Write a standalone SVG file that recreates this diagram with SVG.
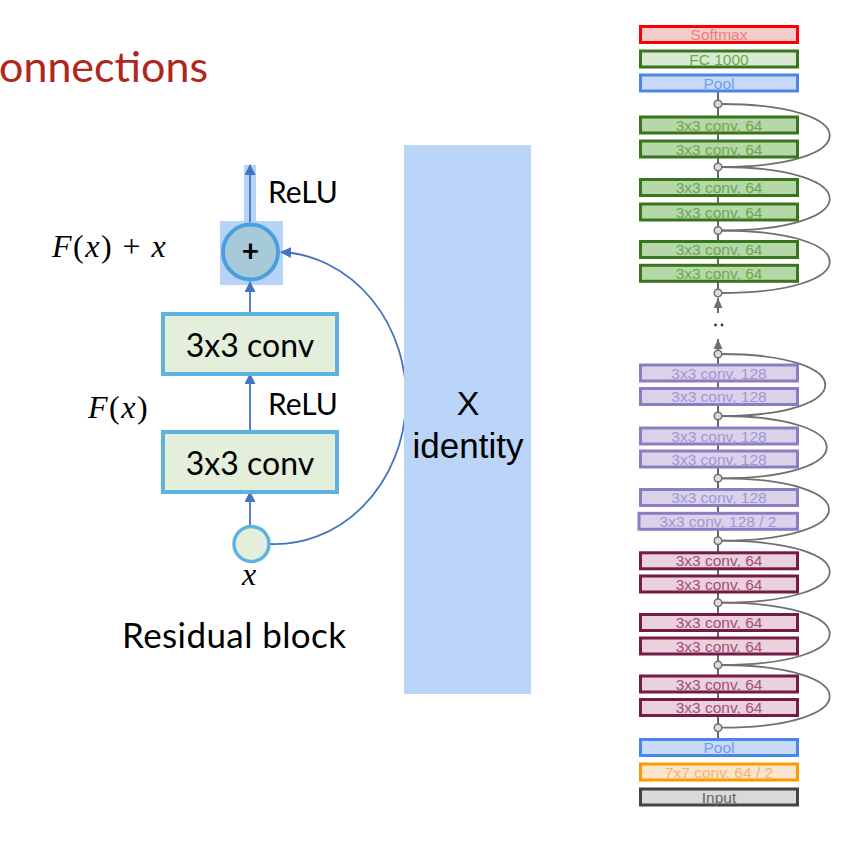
<svg xmlns="http://www.w3.org/2000/svg" width="868" height="848" viewBox="0 0 868 848">
<style>
.gill{font-family:Lato,"Open Sans","DejaVu Sans",sans-serif;fill:#000}
.math{font-family:"Liberation Serif","DejaVu Serif",serif;font-size:32px;fill:#000}
.it{font-style:italic}
.conv{fill:#E3EEDB;stroke:#5DB2E0;stroke-width:4}
.blue{stroke:#4472C4;stroke-width:1.8;fill:none}
.bx{stroke-width:3}
.bt{font-family:"Liberation Sans",Arial,sans-serif;font-size:15.5px;text-anchor:middle}
.g64 rect{fill:#B6D7A8;stroke:#38761D}
.g64 text{fill:#6AA84F}
.p128 rect{fill:#D9D2E9;stroke:#8E7CC3}
.p128 text{fill:#A196D9}
.m64 rect{fill:#EAD1DC;stroke:#741B47}
.m64 text{fill:#A64D79}
.skip{fill:none;stroke:#707070;stroke-width:1.8}
.vl{stroke:#666;stroke-width:2}
.dot{fill:#DDD;stroke:#707070;stroke-width:1.5}
</style>
<defs>
<marker id="ab" markerUnits="userSpaceOnUse" markerWidth="11" markerHeight="11" refX="10" refY="5.5" orient="auto"><path d="M0,0 L11,5.5 L0,11 z" fill="#4472C4"/></marker>
<marker id="ag" markerUnits="userSpaceOnUse" markerWidth="10" markerHeight="9" refX="10" refY="4.5" orient="auto"><path d="M0,0 L10,4.5 L0,9 z" fill="#707070"/></marker>
</defs>
<rect width="868" height="848" fill="#fff"/>
<text x="-1" y="82" font-family="Lato,'Open Sans',sans-serif" font-size="43" fill="#B0261C">onnections</text>

<!-- Residual block -->
<g id="highlights">
<rect x="244" y="165" width="12" height="57" fill="#B7D3F7"/>
<rect x="220" y="221" width="63" height="64" fill="#B7D3F7"/>
</g>
<g id="connectors-left">
<line class="blue" x1="250" y1="222" x2="250" y2="165" marker-end="url(#ab)"/>
<line class="blue" x1="250" y1="314" x2="250" y2="282" marker-end="url(#ab)"/>
<line class="blue" x1="250" y1="432" x2="250" y2="374" marker-end="url(#ab)"/>
<line class="blue" x1="250" y1="526" x2="250" y2="492" marker-end="url(#ab)"/>
<path class="blue" d="M269,544 A131 146 0 0 0 281,252" marker-end="url(#ab)"/>
</g>
<g id="add">
<circle cx="250.5" cy="252" r="27.5" fill="#A7CAD8" stroke="#4A9FDF" stroke-width="4"/>
<text x="250.5" y="262" class="gill" font-size="30" font-weight="bold" text-anchor="middle">+</text>
</g>
<g id="conv1">
<rect class="conv" x="163" y="314" width="174" height="60"/>
<text x="250" y="357" class="gill" font-size="32" text-anchor="middle">3x3 conv</text>
</g>
<g id="conv2">
<rect class="conv" x="163" y="432" width="174" height="60"/>
<text x="250" y="475" class="gill" font-size="32" text-anchor="middle">3x3 conv</text>
</g>
<g id="input-x">
<circle cx="251.5" cy="544" r="17.5" fill="#E3EEDB" stroke="#5DB2E0" stroke-width="3.5"/>
<text x="249" y="585" class="math it" text-anchor="middle">x</text>
</g>
<text x="268" y="203" class="gill" font-size="30">ReLU</text>
<text x="268" y="415" class="gill" font-size="30">ReLU</text>
<text x="52" y="257" class="math" letter-spacing="1.5"><tspan class="it">F</tspan>(<tspan class="it">x</tspan>) + <tspan class="it">x</tspan></text>
<text x="88" y="418" class="math" letter-spacing="1.5"><tspan class="it">F</tspan>(<tspan class="it">x</tspan>)</text>
<text x="122" y="648" class="gill" font-size="35" letter-spacing="0.4">Residual block</text>

<!-- identity bar -->
<g id="identity">
<rect x="404" y="145" width="127" height="549" fill="#BAD5F8"/>
<text x="468" y="415" font-family="'Liberation Sans',Arial,sans-serif" font-size="34" text-anchor="middle">X</text>
<text x="468" y="458" font-family="'Liberation Sans',Arial,sans-serif" font-size="35" text-anchor="middle">identity</text>
</g>

<!-- ResNet column -->
<g id="connectors-right">
<line class="vl" x1="718" y1="92" x2="718" y2="293"/>
<line class="vl" x1="718" y1="313" x2="718" y2="298" marker-end="url(#ag)"/>
<line class="vl" x1="718" y1="352" x2="718" y2="339" marker-end="url(#ag)"/>
<line class="vl" x1="718" y1="354" x2="718" y2="738"/>
<circle cx="715.5" cy="325" r="1.4" fill="#333"/>
<circle cx="722" cy="325" r="1.4" fill="#333"/>
<path class="skip" d="M721,104 C866,104 866,167 721,167"/>
<path class="skip" d="M721,167 C866,167 866,230.5 721,230.5"/>
<path class="skip" d="M721,230.5 C866,230.5 866,293 721,293"/>
<path class="skip" d="M721,354 C860,354 860,416 721,416"/>
<path class="skip" d="M721,416 C862,416 862,478.3 721,478.3"/>
<path class="skip" d="M721,478.3 C865,478.3 865,540.7 721,540.7"/>
<path class="skip" d="M721,540.7 C866,540.7 866,602.7 721,602.7"/>
<path class="skip" d="M721,602.7 C866,602.7 866,665 721,665"/>
<path class="skip" d="M721,665 C866,665 866,727.7 721,727.7"/>
</g>
<g id="softmax"><rect class="bx" x="640.5" y="26.5" width="157" height="16" fill="#F4CCCC" stroke="#FF0000"/><text class="bt" x="719" y="40" fill="#F07C7C">Softmax</text></g>
<g id="fc1000"><rect class="bx" x="640.5" y="51" width="157" height="16" fill="#D9EAD3" stroke="#38761D"/><text class="bt" x="719" y="64.5" fill="#6AA84F">FC 1000</text></g>
<g id="pool-top"><rect class="bx" x="640.5" y="75" width="157" height="16" fill="#C9DAF8" stroke="#4A86E8"/><text class="bt" x="719" y="88.5" fill="#6D9EEB">Pool</text></g>
<g id="g1" class="g64"><rect class="bx" x="640.5" y="117" width="157" height="16"/><text class="bt" x="719" y="130.5">3x3 conv, 64</text></g>
<g id="g2" class="g64"><rect class="bx" x="640.5" y="141" width="157" height="16"/><text class="bt" x="719" y="154.5">3x3 conv, 64</text></g>
<g id="g3" class="g64"><rect class="bx" x="640.5" y="179.5" width="157" height="16"/><text class="bt" x="719" y="193">3x3 conv, 64</text></g>
<g id="g4" class="g64"><rect class="bx" x="640.5" y="204" width="157" height="16"/><text class="bt" x="719" y="217.5">3x3 conv, 64</text></g>
<g id="g5" class="g64"><rect class="bx" x="640.5" y="241.5" width="157" height="16"/><text class="bt" x="719" y="255">3x3 conv, 64</text></g>
<g id="g6" class="g64"><rect class="bx" x="640.5" y="265.3" width="157" height="16"/><text class="bt" x="719" y="278.8">3x3 conv, 64</text></g>
<g id="p1" class="p128"><rect class="bx" x="640.5" y="365" width="157" height="16"/><text class="bt" x="719" y="378.5">3x3 conv, 128</text></g>
<g id="p2" class="p128"><rect class="bx" x="640.5" y="388.5" width="157" height="16"/><text class="bt" x="719" y="402">3x3 conv, 128</text></g>
<g id="p3" class="p128"><rect class="bx" x="640.5" y="428" width="157" height="16"/><text class="bt" x="719" y="441.5">3x3 conv, 128</text></g>
<g id="p4" class="p128"><rect class="bx" x="640.5" y="451" width="157" height="16"/><text class="bt" x="719" y="464.5">3x3 conv, 128</text></g>
<g id="p5" class="p128"><rect class="bx" x="640.5" y="489.5" width="157" height="16"/><text class="bt" x="719" y="503">3x3 conv, 128</text></g>
<g id="p6" class="p128"><rect class="bx" x="639" y="513.3" width="158.5" height="16"/><text class="bt" x="718" y="526.8">3x3 conv, 128 / 2</text></g>
<g id="m1" class="m64"><rect class="bx" x="640.5" y="552.8" width="157" height="16"/><text class="bt" x="719" y="566.3">3x3 conv, 64</text></g>
<g id="m2" class="m64"><rect class="bx" x="640.5" y="576" width="157" height="16"/><text class="bt" x="719" y="589.5">3x3 conv, 64</text></g>
<g id="m3" class="m64"><rect class="bx" x="640.5" y="614.5" width="157" height="16"/><text class="bt" x="719" y="628">3x3 conv, 64</text></g>
<g id="m4" class="m64"><rect class="bx" x="640.5" y="638" width="157" height="16"/><text class="bt" x="719" y="651.5">3x3 conv, 64</text></g>
<g id="m5" class="m64"><rect class="bx" x="640.5" y="676" width="157" height="16"/><text class="bt" x="719" y="689.5">3x3 conv, 64</text></g>
<g id="m6" class="m64"><rect class="bx" x="640.5" y="699.5" width="157" height="16"/><text class="bt" x="719" y="713">3x3 conv, 64</text></g>
<g id="pool-bottom"><rect class="bx" x="640.5" y="739.5" width="157" height="16" fill="#C9DAF8" stroke="#4A86E8"/><text class="bt" x="719" y="753" fill="#6D9EEB">Pool</text></g>
<g id="conv7x7"><rect class="bx" x="640.5" y="764" width="157" height="16" fill="#FCE5CD" stroke="#FF9900"/><text class="bt" x="719" y="777.5" fill="#F6B26B">7x7 conv, 64 / 2</text></g>
<g id="input"><rect class="bx" x="640.5" y="789" width="157" height="16" fill="#D9D9D9" stroke="#434343"/><text class="bt" x="719" y="802.5" fill="#666">Input</text></g>
<g id="junctions">
<circle class="dot" cx="718" cy="104" r="3.8"/>
<circle class="dot" cx="718" cy="167" r="3.8"/>
<circle class="dot" cx="718" cy="230.5" r="3.8"/>
<circle class="dot" cx="718" cy="293" r="3.8"/>
<circle class="dot" cx="718" cy="354" r="3.8"/>
<circle class="dot" cx="718" cy="416" r="3.8"/>
<circle class="dot" cx="718" cy="478.3" r="3.8"/>
<circle class="dot" cx="718" cy="540.7" r="3.8"/>
<circle class="dot" cx="718" cy="602.7" r="3.8"/>
<circle class="dot" cx="718" cy="665" r="3.8"/>
<circle class="dot" cx="718" cy="727.7" r="3.8"/>
</g>
</svg>
